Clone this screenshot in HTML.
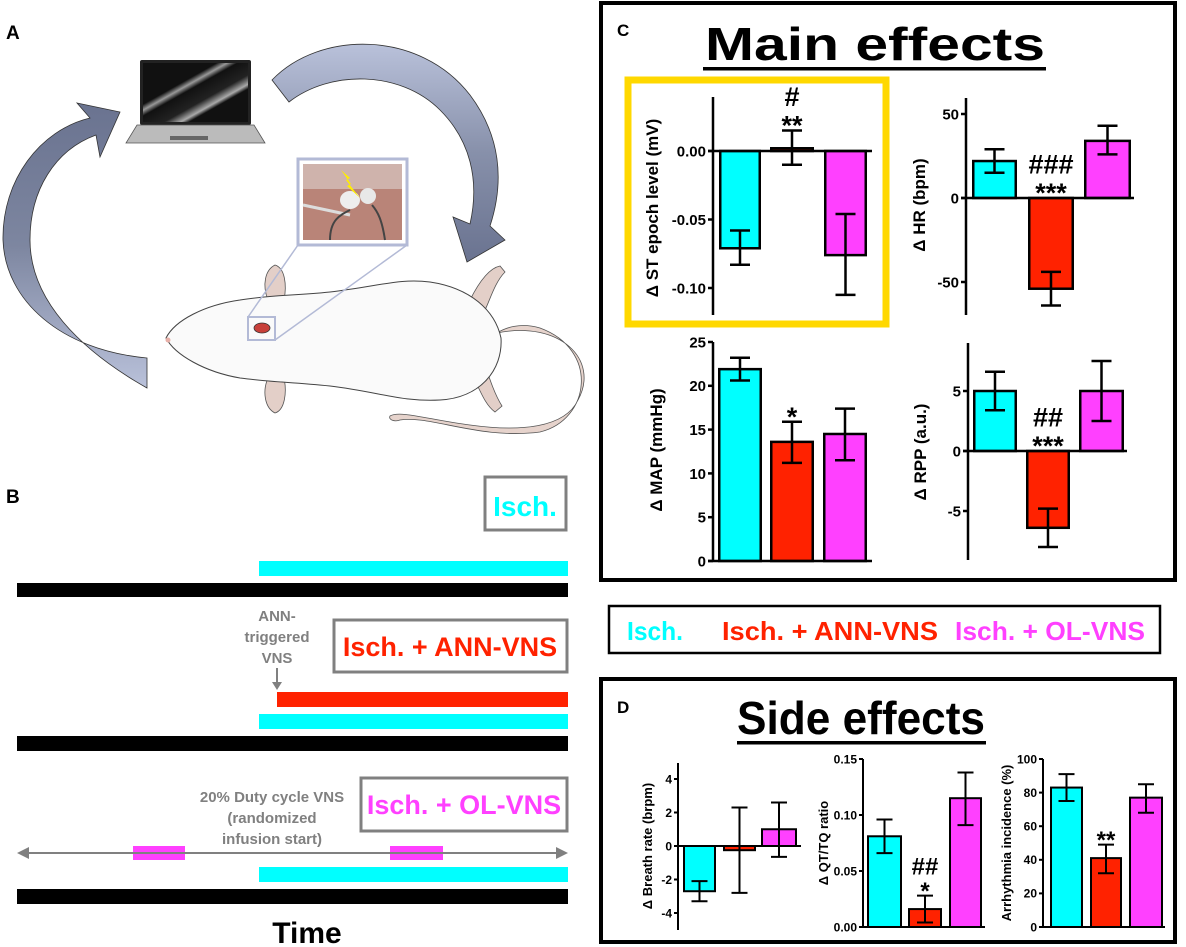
<!DOCTYPE html>
<html><head><meta charset="utf-8"><style>
html,body{margin:0;padding:0;background:#fff;}
svg{display:block;font-family:"Liberation Sans",Arial,sans-serif;}
.b{font-weight:bold;}
</style></head><body>
<svg id="fig" width="1186" height="947" viewBox="0 0 1186 947" xmlns="http://www.w3.org/2000/svg">
<defs>
<linearGradient id="arrL" x1="0" y1="0" x2="0" y2="1"><stop offset="0" stop-color="#6a7390"/><stop offset="0.5" stop-color="#7d86a0"/><stop offset="1" stop-color="#b9c1da"/></linearGradient>
<linearGradient id="arrR" x1="0" y1="0" x2="0" y2="1"><stop offset="0" stop-color="#b9c1da"/><stop offset="0.5" stop-color="#8790aa"/><stop offset="1" stop-color="#6a7390"/></linearGradient>
<linearGradient id="scr" x1="0" y1="0" x2="1" y2="1"><stop offset="0" stop-color="#111"/><stop offset="0.35" stop-color="#111"/><stop offset="0.4" stop-color="#999"/><stop offset="0.45" stop-color="#111"/><stop offset="0.6" stop-color="#222"/><stop offset="0.68" stop-color="#aaa"/><stop offset="0.72" stop-color="#111"/><stop offset="1" stop-color="#111"/></linearGradient>
</defs>

<!-- Panel A -->
<g>
<text x="6" y="39" class="b" font-size="19">A</text>
<path d="M147,358 C60,350 5,300 3,240 C2,180 40,130 90,118 L77,103 L120,112 L100,157 L96,135 C55,150 30,190 30,240 C30,300 80,350 147,388 Z" fill="url(#arrL)" stroke="#333" stroke-width="0.8"/>
<path d="M272,80 C320,30 420,30 470,95 C500,135 505,180 490,226 L505,240 L467,262 L453,217 L470,224 C480,180 470,140 440,110 C400,70 330,70 289,102 Z" fill="url(#arrR)" stroke="#333" stroke-width="0.8"/>
<g>
<rect x="140" y="60" width="111" height="65" rx="2" fill="#222"/>
<rect x="143" y="63" width="105" height="59" fill="url(#scr)"/>
<path d="M137,125 L254,125 L265,143 L126,143 Z" fill="#bbb" stroke="#555" stroke-width="0.8"/>
<rect x="170" y="136" width="38" height="4" fill="#666"/>
</g>
<g>
<path d="M497,333 C560,320 600,360 578,400 C565,428 520,432 470,425 C430,420 400,410 390,416 C388,420 395,422 400,420 C430,415 480,440 540,432 C590,420 600,350 540,328 C520,322 505,328 497,333 Z" fill="#e6d3cc" stroke="#555" stroke-width="0.8"/>
<path d="M268,300 C262,285 265,270 275,265 C285,268 287,285 284,300 Z" fill="#e3cfc8" stroke="#555" stroke-width="0.8"/>
<path d="M268,378 C262,392 265,408 275,413 C285,410 287,392 284,378 Z" fill="#e3cfc8" stroke="#555" stroke-width="0.8"/>
<path d="M470,300 C480,280 490,268 500,266 L505,272 C495,282 490,300 485,310 Z" fill="#e3cfc8" stroke="#555" stroke-width="0.8"/>
<path d="M470,370 C480,390 485,405 495,412 L502,406 C495,395 490,380 485,365 Z" fill="#e3cfc8" stroke="#555" stroke-width="0.8"/>
<path d="M166,338 C175,320 205,305 240,300 C270,295 290,296 330,292 C380,286 400,278 430,282 C470,288 495,310 501,338 C503,370 480,398 440,400 C400,402 380,392 330,386 C290,382 270,382 240,378 C205,372 175,355 166,338 Z" fill="#fafafa" stroke="#444" stroke-width="1"/>
<circle cx="168" cy="340" r="2.5" fill="#e8b0a8"/>
<ellipse cx="262" cy="328" rx="8" ry="5" fill="#c8403a" stroke="#333" stroke-width="0.8"/>
</g>
<rect x="248" y="317" width="27" height="23" fill="none" stroke="#b3bad6" stroke-width="2"/>
<line x1="248" y1="317" x2="298" y2="245" stroke="#b3bad6" stroke-width="1.5"/>
<line x1="275" y1="340" x2="407" y2="245" stroke="#b3bad6" stroke-width="1.5"/>
<g>
<rect x="298" y="159" width="109" height="86" fill="#fff" stroke="#b3bad6" stroke-width="3"/>
<rect x="303" y="164" width="99" height="76" fill="#b98478"/>
<rect x="303" y="164" width="99" height="25" fill="#cfb3ac"/>
<ellipse cx="350" cy="200" rx="10" ry="9" fill="#eee"/>
<ellipse cx="368" cy="196" rx="8" ry="8" fill="#e8e8e8"/>
<path d="M303,205 L350,215" stroke="#ddd" stroke-width="3"/>
<path d="M330,240 C330,220 340,215 350,210" stroke="#444" stroke-width="2" fill="none"/>
<path d="M385,240 C382,220 378,212 372,205" stroke="#444" stroke-width="2" fill="none"/>
<path d="M341,170 L350,178 L346,180 L360,198 L347,186 L351,184 Z" fill="#ffee00"/>
</g>
</g>

<!-- Panel B -->
<g style="font-family:'Liberation Sans Narrow','Liberation Sans',sans-serif">
<text x="6" y="503" class="b" font-size="19">B</text>
<rect x="485" y="477" width="81" height="53" fill="#fff" stroke="#808080" stroke-width="3"/>
<text x="525" y="516" text-anchor="middle" class="b" font-size="28" fill="#00ffff">Isch.</text>
<rect x="259" y="561" width="309" height="15" fill="#00ffff"/>
<rect x="17" y="583" width="551" height="14" fill="#000"/>
<text text-anchor="middle" class="b" font-size="15" fill="#808080"><tspan x="277" y="621">ANN-</tspan><tspan x="277" y="642">triggered</tspan><tspan x="277" y="663">VNS</tspan></text>
<line x1="277" y1="668" x2="277" y2="684" stroke="#808080" stroke-width="2"/>
<path d="M272,682 L282,682 L277,690 Z" fill="#808080"/>
<rect x="334" y="620" width="233" height="52" fill="#fff" stroke="#808080" stroke-width="3"/>
<text x="450" y="656" text-anchor="middle" class="b" font-size="27" fill="#ff2200">Isch. + ANN-VNS</text>
<rect x="277" y="692" width="291" height="15" fill="#ff2200"/>
<rect x="259" y="714" width="309" height="15" fill="#00ffff"/>
<rect x="17" y="736" width="551" height="15" fill="#000"/>
<text text-anchor="middle" class="b" font-size="15" fill="#808080"><tspan x="272" y="802">20% Duty cycle VNS</tspan><tspan x="272" y="823">(randomized</tspan><tspan x="272" y="844">infusion start)</tspan></text>
<rect x="361" y="778" width="206" height="53" fill="#fff" stroke="#808080" stroke-width="3"/>
<text x="464" y="814" text-anchor="middle" class="b" font-size="27" fill="#ff40ff">Isch. + OL-VNS</text>
<rect x="133" y="846" width="52" height="14" fill="#ff40ff"/>
<rect x="390" y="846" width="53" height="14" fill="#ff40ff"/>
<line x1="24" y1="853" x2="561" y2="853" stroke="#808080" stroke-width="2"/>
<path d="M17,853 L29,847 L29,859 Z M568,853 L556,847 L556,859 Z" fill="#808080"/>
<rect x="259" y="867" width="309" height="15" fill="#00ffff"/>
<rect x="17" y="889" width="551" height="15" fill="#000"/>
<text x="307" y="943" text-anchor="middle" class="b" font-size="30">Time</text>
</g>

<!-- Panel C frame -->
<rect x="601" y="3" width="574" height="577" fill="none" stroke="#000" stroke-width="4"/>
<text x="617" y="36" class="b" font-size="17">C</text>
<text x="875" y="60" text-anchor="middle" class="b" font-size="46" textLength="340" lengthAdjust="spacingAndGlyphs" style="font-family:'Liberation Sans Narrow','Liberation Sans',sans-serif">Main effects</text>
<rect x="703" y="67" width="343" height="3.5" fill="#000"/>
<rect x="628" y="80" width="258" height="244" fill="none" stroke="#ffd800" stroke-width="7"/>

<!-- Legend -->
<g>
<rect x="609" y="606" width="551" height="47" fill="#fff" stroke="#000" stroke-width="2.5"/>
<text x="627" y="640" class="b" font-size="26" fill="#00ffff" textLength="56" lengthAdjust="spacingAndGlyphs" style="font-family:'Liberation Sans Narrow','Liberation Sans',sans-serif">Isch.</text>
<text x="722" y="640" class="b" font-size="26" fill="#ff2200" textLength="216" lengthAdjust="spacingAndGlyphs" style="font-family:'Liberation Sans Narrow','Liberation Sans',sans-serif">Isch. + ANN-VNS</text>
<text x="955" y="640" class="b" font-size="26" fill="#ff40ff" textLength="190" lengthAdjust="spacingAndGlyphs" style="font-family:'Liberation Sans Narrow','Liberation Sans',sans-serif">Isch. + OL-VNS</text>
</g>

<!-- Panel D frame -->
<rect x="601" y="679" width="574" height="263" fill="none" stroke="#000" stroke-width="4"/>
<text x="617" y="713" class="b" font-size="17">D</text>
<text x="861" y="734" text-anchor="middle" class="b" font-size="46" textLength="248" lengthAdjust="spacingAndGlyphs" style="font-family:'Liberation Sans Narrow','Liberation Sans',sans-serif">Side effects</text>
<rect x="737" y="741" width="249" height="3.5" fill="#000"/>

<g id="charts"></g>
</svg>
<script>
// Shared
const groups = ["Isch.", "Isch. + ANN-VNS", "Isch. + OL-VNS"];
const colors = ["#00ffff", "#ff2200", "#ff40ff"];

// ST epoch
const stMean = [-0.071, 0.002, -0.076];
const stLow = [-0.083, -0.010, -0.105];
const stHigh = [-0.058, 0.015, -0.046];
const stTicks = [0, -0.05, -0.10];
const stTickLabels = ["0.00", "-0.05", "-0.10"];
const stAnnot = [[], ["#", "**"], []];
// HR
const hrMean = [22, -54, 34];
const hrLow = [15, -64, 26];
const hrHigh = [29, -44, 43];
const hrTicks = [50, 0, -50];
const hrTickLabels = ["50", "0", "-50"];
const hrAnnot = [[], ["###", "***"], []];
// MAP
const mapMean = [21.9, 13.6, 14.5];
const mapLow = [20.6, 11.2, 11.5];
const mapHigh = [23.2, 15.9, 17.4];
const mapTicks = [25, 20, 15, 10, 5, 0];
const mapTickLabels = ["25", "20", "15", "10", "5", "0"];
const mapAnnot = [[], ["*"], []];
// RPP
const rppMean = [5.0, -6.4, 5.0];
const rppLow = [3.4, -8.0, 2.5];
const rppHigh = [6.6, -4.8, 7.5];
const rppTicks = [5, 0, -5];
const rppTickLabels = ["5", "0", "-5"];
const rppAnnot = [[], ["##", "***"], []];
// Breath rate
const brMean = [-2.7, -0.25, 1.0];
const brLow = [-3.3, -2.8, -0.65];
const brHigh = [-2.1, 2.3, 2.6];
const brTicks = [4, 2, 0, -2, -4];
const brTickLabels = ["4", "2", "0", "-2", "-4"];
const brAnnot = [[], [], []];
// QT/TQ
const qtMean = [0.081, 0.016, 0.115];
const qtLow = [0.066, 0.004, 0.091];
const qtHigh = [0.096, 0.028, 0.138];
const qtTicks = [0.15, 0.10, 0.05, 0.00];
const qtTickLabels = ["0.15", "0.10", "0.05", "0.00"];
const qtAnnot = [[], ["##", "*"], []];
// Arrhythmia
const arMean = [83, 41, 77];
const arLow = [75, 32, 68];
const arHigh = [91, 49, 85];
const arTicks = [100, 80, 60, 40, 20, 0];
const arTickLabels = ["100", "80", "60", "40", "20", "0"];
const arAnnot = [[], ["**"], []];

const NS = "http://www.w3.org/2000/svg";
const root = document.getElementById("charts");
function mk(tag, attrs, parent) {
  const e = document.createElementNS(NS, tag);
  for (const k in attrs) e.setAttribute(k, attrs[k]);
  (parent || root).appendChild(e);
  return e;
}

function chart(id, L, mean, low, high, ticks, tickLabels, annot) {
  const g = mk("g", {});
  
  
  const scale = (L.p1 - L.p0) / (L.v1 - L.v0);
  const y = v => L.p0 + (v - L.v0) * scale;
  const sw = L.sw;
  mean.forEach((m, i) => {
    const x0 = L.bx[i][0], x1 = L.bx[i][1];
    const ya = y(0), yb = y(m);
    const r = mk("rect", {x: x0 + sw/2, y: Math.min(ya, yb), width: x1 - x0 - sw, height: Math.max(0.5, Math.abs(yb - ya)), fill: colors[i], stroke: "#000", "stroke-width": sw}, g);
    
    
    const cx = (x0 + x1) / 2, cap = L.cap;
    const eb = mk("path", {d: `M${cx},${y(low[i])}V${y(high[i])}M${cx-cap},${y(low[i])}H${cx+cap}M${cx-cap},${y(high[i])}H${cx+cap}`, stroke: "#000", "stroke-width": sw, fill: "none"}, g);
    
    
    const lines = annot[i];
    if (lines.length) {
      const top = m >= 0 ? y(high[i]) : y(0);
      lines.forEach((s, k) => {
        const c = top - L.aoff - (lines.length - 1 - k) * L.agap;
        const off = s.indexOf("*") >= 0 ? L.afs * 0.56 : L.afs * 0.36;
        const t = mk("text", {x: cx, y: c + off, "text-anchor": "middle", "font-size": L.afs, "font-weight": "bold"}, g);
        t.textContent = s;
        
        
      });
    }
  });
  const ax = mk("line", {x1: L.ax, x2: L.ax, y1: L.yt, y2: L.yb, stroke: "#000", "stroke-width": sw}, g);
  
  
  const zl = mk("line", {x1: L.ax - (L.tickLen), x2: L.zr, y1: y(0), y2: y(0), stroke: "#000", "stroke-width": sw}, g);
  
  
  ticks.forEach((v, i) => {
    mk("line", {x1: L.ax - L.tickLen, x2: L.ax, y1: y(v), y2: y(v), stroke: "#000", "stroke-width": sw}, g);
    const t = mk("text", {x: L.ax - L.tickLen - 2, y: y(v) + L.tfs * 0.36, "text-anchor": "end", "font-size": L.tfs, "font-weight": "bold"}, g);
    t.textContent = tickLabels[i];
    
    
  });
  const lab = mk("text", {x: 0, y: 0, "text-anchor": "middle", "font-size": L.lfs, "font-weight": "bold", transform: `translate(${L.lx},${L.ly}) rotate(-90)`}, g);
  lab.textContent = L.label;
  
  
}

const C = {sw: 2.5, cap: 10, tickLen: 5, tfs: 15, lfs: 17, afs: 27, aoff: 11, agap: 23};
chart("st", Object.assign({}, C, {p0: 151, v0: 0, p1: 219.5, v1: -0.05, ax: 713, yt: 97, yb: 315, zr: 872,
  bx: [[719, 761], [770, 814], [824, 867]], lx: 658, ly: 208, label: "\u0394 ST  epoch level (mV)"}),
  stMean, stLow, stHigh, stTicks, stTickLabels, stAnnot);
chart("hr", Object.assign({}, C, {p0: 198, v0: 0, p1: 114, v1: 50, ax: 966, yt: 98, yb: 315, zr: 1134,
  bx: [[972, 1017], [1028, 1074], [1084, 1131]], lx: 925, ly: 205, label: "\u0394 HR (bpm)"}),
  hrMean, hrLow, hrHigh, hrTicks, hrTickLabels, hrAnnot);
chart("map", Object.assign({}, C, {p0: 561, v0: 0, p1: 342, v1: 25, ax: 713, yt: 342, yb: 561, zr: 872,
  bx: [[718, 762], [770, 814], [823, 867]], lx: 662, ly: 450, label: "\u0394 MAP (mmHg)"}),
  mapMean, mapLow, mapHigh, mapTicks, mapTickLabels, mapAnnot);
chart("rpp", Object.assign({}, C, {p0: 451, v0: 0, p1: 391, v1: 5, ax: 968, yt: 343, yb: 560, zr: 1127,
  bx: [[973, 1017], [1026, 1070], [1079, 1124]], lx: 926, ly: 452, label: "\u0394 RPP (a.u.)"}),
  rppMean, rppLow, rppHigh, rppTicks, rppTickLabels, rppAnnot);

const D = {sw: 2, cap: 8, tickLen: 4, tfs: 12, lfs: 13, afs: 24, aoff: 10, agap: 20};
chart("breath", Object.assign({}, D, {p0: 846, v0: 0, p1: 779, v1: 4, ax: 678, yt: 763, yb: 930, zr: 801,
  bx: [[683, 716], [723, 756], [761, 797]], lx: 652, ly: 846, label: "\u0394 Breath rate (brpm)"}),
  brMean, brLow, brHigh, brTicks, brTickLabels, brAnnot);
chart("qt", Object.assign({}, D, {p0: 927, v0: 0, p1: 759, v1: 0.15, ax: 863, yt: 759, yb: 927, zr: 985,
  bx: [[867, 902], [908, 942], [949, 982]], lx: 828, ly: 843, label: "\u0394 QT/TQ ratio"}),
  qtMean, qtLow, qtHigh, qtTicks, qtTickLabels, qtAnnot);
chart("arrhythmia", Object.assign({}, D, {p0: 927, v0: 0, p1: 759, v1: 100, ax: 1043, yt: 759, yb: 927, zr: 1165,
  bx: [[1050, 1083], [1090, 1122], [1129, 1163]], lx: 1011, ly: 843, label: "Arrhythmia incidence (%)"}),
  arMean, arLow, arHigh, arTicks, arTickLabels, arAnnot);
</script>
</body></html>
